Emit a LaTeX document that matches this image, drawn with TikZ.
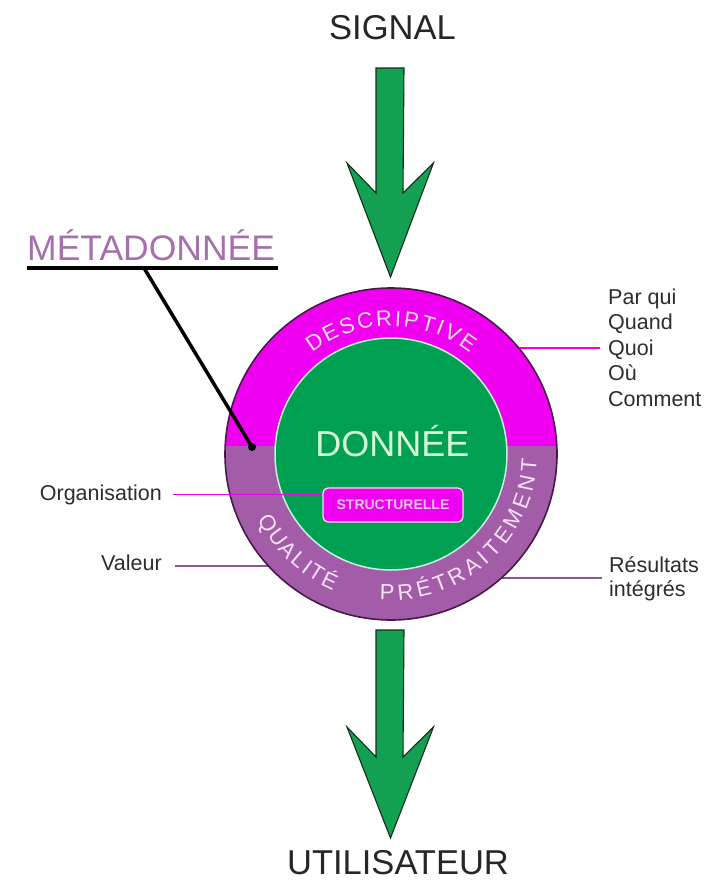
\documentclass[tikz,border=0pt]{standalone}
\usepackage{fontspec}
\setmainfont{Liberation Sans}
\usetikzlibrary{decorations.text}

\definecolor{magband}{RGB}{240,0,240}
\definecolor{purband}{RGB}{163,92,168}
\definecolor{datagreen}{RGB}{0,160,82}
\definecolor{arrowgreen}{RGB}{20,160,82}
\definecolor{arrowedge}{RGB}{20,45,25}
\definecolor{rimdark}{RGB}{70,25,70}
\definecolor{corerim}{RGB}{200,240,222}
\definecolor{metaviolet}{RGB}{165,112,172}
\definecolor{labelgray}{RGB}{45,45,45}
\definecolor{leadpurple}{RGB}{140,85,150}
\definecolor{arctext}{RGB}{250,225,250}
\definecolor{palegreen}{RGB}{215,248,215}
\definecolor{palepink}{RGB}{248,190,248}

\tikzset{
  lbl/.style={font=\fontsize{21.5}{25}\selectfont, text=labelgray, inner sep=0pt},
  bigword/.style={font=\fontsize{34.5}{38}\selectfont, text=black!85, inner sep=0pt},
  flowarrow/.style={fill=arrowgreen, draw=arrowedge, line width=1.1pt, line join=miter},
  magline/.style={draw=magband, line width=1.8pt},
  purline/.style={draw=leadpurple, line width=1.8pt},
  arcword/.style={decorate, decoration={text along path, text align={fit to path},
      text color=arctext, text={|\fontsize{22}{22}\selectfont|#1}}}
}

\begin{document}
\begin{tikzpicture}[x=1pt,y=1pt]
\useasboundingbox (0,0) rectangle (715,-881);
\fill[white] (0,0) rectangle (715,-881);

\coordinate (C) at (391,-454);

% titles
\node[bigword, anchor=base] (signal) at (392.5,-39.5) {SIGNAL};
\node[bigword, anchor=base] (user) at (398,-874) {UTILISATEUR};

% incoming and outgoing block arrows
\draw[flowarrow] (376,-68) -- (404,-68) -- (403,-193) -- (433.5,-163)
  -- (390.5,-277) -- (347,-163) -- (376,-193) -- cycle;
\draw[flowarrow] (376,-630) -- (404,-630) -- (403,-757) -- (433.5,-727)
  -- (390.5,-838) -- (347,-727) -- (376,-757) -- cycle;

% side labels
\node[lbl, anchor=base west] (parqui) at (608,-304) {Par qui};
\node[lbl, anchor=base west] (quand) at (608,-329.5) {Quand};
\node[lbl, anchor=base west] (quoi) at (608,-355) {Quoi};
\node[lbl, anchor=base west] (ou) at (608,-380.5) {Où};
\node[lbl, anchor=base west] (comment) at (608,-406) {Comment};
\node[lbl, anchor=base west] (res) at (609,-572) {Résultats};
\node[lbl, anchor=base west] (integ) at (609,-596) {intégrés};
\node[lbl, anchor=base east] (org) at (162,-500) {Organisation};
\node[lbl, anchor=base east] (valeur) at (162,-570) {Valeur};

% leaders that run under the disc
\draw[magline] ([xshift=-8pt,yshift=1pt]quoi.west) -- ++(-130,0);
\draw[purline] ([xshift=13pt,yshift=-4pt]valeur.east) -- ++(120,0);
\draw[purline] ([xshift=-7pt,yshift=-6pt]res.base west) -- ++(-120,0);

% metadata disc: descriptive band on top, lower band below
\fill[purband] (C) circle[radius=166];
\begin{scope}
  \clip (C) circle[radius=166];
  \fill[magband] (200,-446) rectangle (600,-270);
\end{scope}
\draw[rimdark, line width=1.6pt] (C) circle[radius=166];

% data core
\node[circle, fill=datagreen, draw=corerim, line width=1.5pt,
      minimum size=232pt, inner sep=0pt] (core) at (C) {};
\node[font=\fontsize{36}{40}\selectfont, text=palegreen, inner sep=0pt, anchor=base]
  (donnee) at (392.5,-456) {DONNÉE};

% band captions
\path[arcword=DESCRIPTIVE] ([shift={(128:128)}]C) arc[start angle=128, end angle=52, radius=128];
\path[arcword=PRÉTRAITEMENT] ([shift={(-94.5:146)}]C) arc[start angle=-94.5, end angle=-2, radius=146];
\path[arcword=QUALITÉ] ([shift={(206:148)}]C) arc[start angle=206, end angle=247, radius=148];

% structural metadata box
\node[draw=palepink!60!white, line width=1.3pt, fill=magband, rounded corners=5pt,
      minimum width=140pt, minimum height=34pt, inner sep=0pt,
      font=\fontsize{14}{14}\selectfont\bfseries, text=palepink] (struct) at (393,-505) {STRUCTURELLE};
\draw[magline] ([xshift=11pt]org.east) -- (org.east -| struct.west);

% heading with its pointer
\node[font=\fontsize{35.5}{40}\selectfont, text=metaviolet, inner sep=0pt, anchor=base west]
  (meta) at (27,-260) {MÉTADONNÉE};
\draw[black, line width=4pt] ([yshift=-8pt]meta.base west) -- ([xshift=3pt,yshift=-8pt]meta.base east);
\coordinate (metafoot) at (144,-268);
\node[circle, fill=black, minimum size=8pt, inner sep=0pt] (metadot) at (252,-447) {};
\draw[black, line width=3.5pt] (metafoot) -- (metadot.center);
\end{tikzpicture}
\end{document}
